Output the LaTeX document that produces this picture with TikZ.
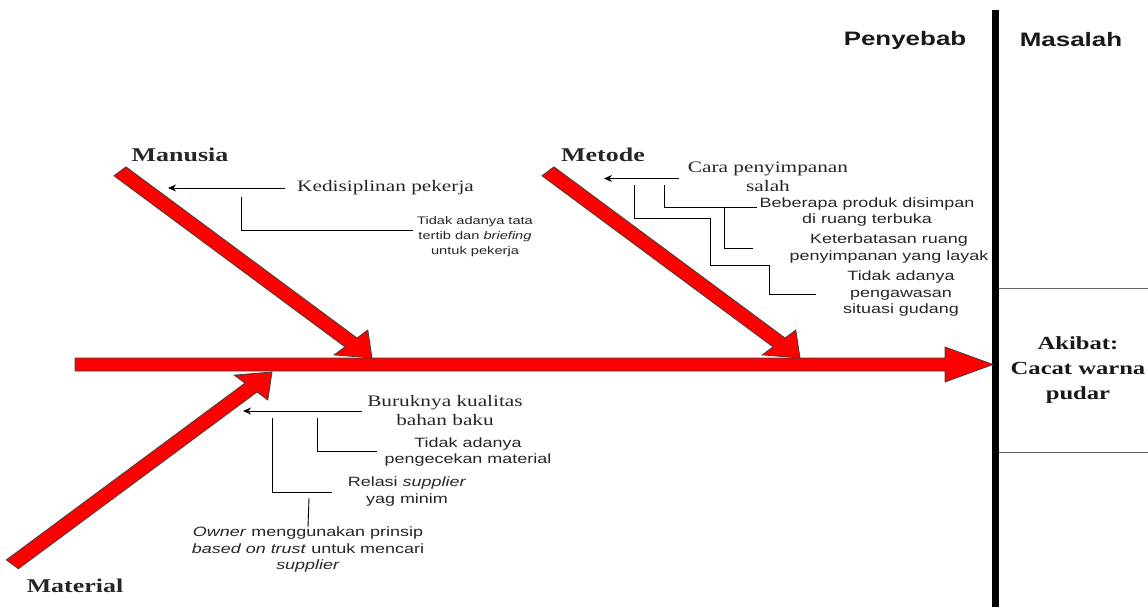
\documentclass[tikz,border=0pt]{standalone}
\usepackage{fontspec}
\setmainfont[FakeStretch=1.33]{Liberation Serif}
\setsansfont[FakeStretch=1.33]{Liberation Sans}
\usetikzlibrary{arrows.meta}

% A slanted bone: tip x, tip y, length, sense (1 = runs down to the right, -1 = runs up to the right)
\newcommand{\fishbone}[4]{%
  \pgfmathsetmacro\kx{1.35*0.7071}%
  \pgfmathsetmacro\ky{#4*0.7071}%
  \def\bp##1##2{({#1+\kx*((##1)+(##2))},{#2+\ky*((##1)-(##2))})}%
  \filldraw[bonestyle] \bp{-#3}{6.3} -- \bp{-22}{6.3} -- \bp{-22}{17.6} -- \bp{0}{0}
    -- \bp{-22}{-17.6} -- \bp{-22}{-6.3} -- \bp{-#3}{-6.3} -- cycle;%
}

\tikzset{
  bonestyle/.style={fill=red, draw=black!75, line width=0.8pt, line join=miter},
  causearrow/.style={draw=black, line width=0.9pt, -{Stealth[length=8pt,width=7pt]}},
  guide/.style={draw=black, line width=0.9pt},
  catlabel/.style={font=\bfseries\fontsize{19.5}{22}\selectfont, inner sep=0pt, text=black!85},
  headlabel/.style={font=\sffamily\bfseries\fontsize{19.5}{22}\selectfont, inner sep=0pt, text=black!90},
  effectlabel/.style={font=\bfseries\fontsize{18.5}{25}\selectfont, align=center, inner sep=0pt, text=black!90},
  serifcause/.style={font=\fontsize{16}{19}\selectfont, align=center, inner sep=0pt, text=black!85},
  sanscause/.style={font=\sffamily\fontsize{13.5}{16.5}\selectfont, align=center, inner sep=0pt, text=black!85},
  smallcause/.style={font=\sffamily\fontsize{11}{15}\selectfont, align=center, inner sep=0pt, text=black!85},
}

\begin{document}
\begin{tikzpicture}[x=1pt, y=-1pt]
\useasboundingbox (0,0) rectangle (1148,607);

% problem column
\draw[line width=7pt] (995.5,10) -- (995.5,607);
\draw[black!60, line width=1pt] (999,288) -- (1148,288);
\draw[black!60, line width=1pt] (999,452) -- (1148,452);
\node[headlabel] (penyebab) at (905,40) {Penyebab};
\node[headlabel] (masalah) at (1071,40) {Masalah};
\node[effectlabel] (akibat) at (1078,370) {Akibat:\\Cacat warna\\pudar};

% spine
\filldraw[bonestyle] (75,358) -- (945,358) -- (945,347) -- (993,364.5) -- (945,382)
  -- (945,371) -- (75,371) -- cycle;

% bones
\fishbone{372}{358}{264}{1}
\fishbone{800}{358}{264}{1}
\fishbone{272}{372}{272}{-1}

\node[catlabel] (manusia) at (180,155) {Manusia};
\node[catlabel] (metode) at (603,155) {Metode};
\node[catlabel] (material) at (75,586) {Material};

% Manusia causes
\node[serifcause, anchor=west] (kedis) at (297,188) {Kedisiplinan pekerja};
\coordinate (kedisTip) at (168,188);
\draw[causearrow, shorten <=12pt] (kedis.west) -- (kedisTip);
\node[smallcause] (tata) at (475,237) {Tidak adanya tata\\tertib dan \textit{briefing}\\untuk pekerja};
\coordinate (tataA) at (241,197);
\coordinate (tataB) at (413,230);
\draw[guide] (tataA) |- (tataB);

% Metode causes
\node[serifcause] (cara) at (768,177) {Cara penyimpanan\\salah};
\coordinate (caraTip) at (604,178.5);
\draw[causearrow] (679,178.5) coordinate (caraStart) -- (caraTip);
\node[sanscause] (produk) at (867,212) {Beberapa produk disimpan\\di ruang terbuka};
\node[sanscause] (ruang) at (889,248.5) {Keterbatasan ruang\\penyimpanan yang layak};
\node[sanscause] (awas) at (901,294) {Tidak adanya\\pengawasan\\situasi gudang};
\coordinate (prodA) at (664,185);
\coordinate (prodB) at (757,207);
\coordinate (ruangA) at (724,207);
\coordinate (ruangB) at (753,248);
\coordinate (awasA) at (634,185);
\coordinate (awasB) at (710,218);
\coordinate (awasC) at (769,265);
\coordinate (awasD) at (816,294);
\draw[guide] (prodA) |- (prodB);
\draw[guide] (ruangA) |- (ruangB);
\draw[guide] (awasA) |- (awasB) |- (awasC) |- (awasD);

% Material causes
\node[serifcause] (buruk) at (445,411) {Buruknya kualitas\\bahan baku};
\coordinate (burukTip) at (243,411);
\draw[causearrow] (362,411) coordinate (burukStart) -- (burukTip);
\node[sanscause] (cek) at (468,452) {Tidak adanya\\pengecekan material};
\node[sanscause] (relasi) at (407,491.5) {Relasi \textit{supplier}\\yag minim};
\node[sanscause] (owner) at (308,550) {\textit{Owner} menggunakan prinsip\\\textit{based on trust} untuk mencari\\\textit{supplier}};
\coordinate (cekA) at (317,418);
\coordinate (cekB) at (377,451);
\coordinate (relA) at (272,418);
\coordinate (relB) at (332,492);
\coordinate (ownA) at (309,498);
\draw[guide] (cekA) |- (cekB);
\draw[guide] (relA) |- (relB);
\draw[guide] (ownA) -- (owner.north);
\end{tikzpicture}
\end{document}
